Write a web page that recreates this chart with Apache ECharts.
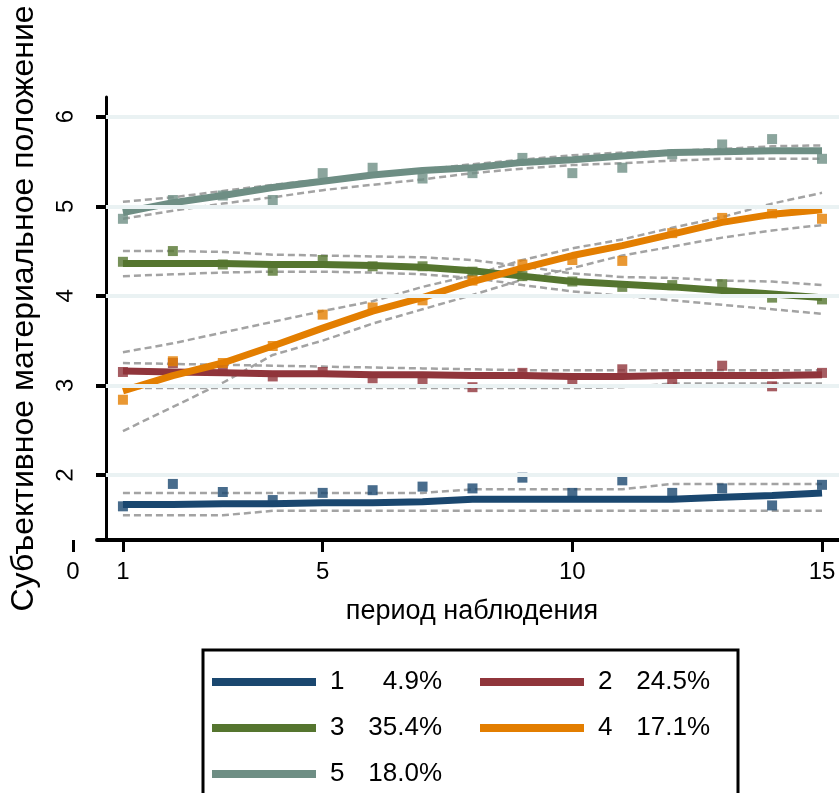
<!DOCTYPE html>
<html><head><meta charset="utf-8">
<script src="https://cdn.jsdelivr.net/npm/echarts@6/dist/echarts.min.js"></script>
<style>html,body{margin:0;padding:0;background:#fff}#c{width:839px;height:793px}</style>
</head><body><div id="c"></div>
<script>
const periods = [1,2,3,4,5,6,7,8,9,10,11,12,13,14,15];
const xTickValues = [0,1,5,10,15];
const yTickValues = [2,3,4,5,6];
const groupNames = ['1','2','3','4','5'];
const groupShares = ['4.9%','24.5%','35.4%','17.1%','18.0%'];
const groupColors = ['#1a476f','#90353b','#55752f','#e37e00','#6e8e84'];

const pred1 = [1.67,1.67,1.68,1.68,1.69,1.69,1.70,1.73,1.73,1.73,1.73,1.73,1.75,1.77,1.80];
const obs1  = [1.65,1.90,1.81,1.72,1.80,1.83,1.87,1.85,1.97,1.80,1.94,1.80,1.85,1.66,1.89];
const up1   = [1.80,1.80,1.80,1.80,1.80,1.80,1.80,1.84,1.84,1.84,1.84,1.90,1.90,1.90,1.90];
const lo1   = [1.55,1.55,1.55,1.60,1.60,1.60,1.60,1.60,1.60,1.60,1.60,1.60,1.60,1.60,1.60];

const pred2 = [3.16,3.15,3.14,3.13,3.13,3.12,3.12,3.11,3.11,3.10,3.10,3.11,3.11,3.11,3.12];
const obs2  = [3.15,3.25,3.17,3.10,3.15,3.08,3.04,2.98,3.14,3.05,3.18,3.04,3.22,2.99,3.14];
const up2   = [3.25,3.24,3.23,3.22,3.21,3.20,3.19,3.18,3.17,3.17,3.17,3.17,3.17,3.17,3.17];
const lo2   = [2.97,2.97,2.97,2.97,2.97,2.97,2.97,2.97,2.97,2.97,2.98,3.02,3.02,3.02,3.02];

const pred3 = [4.36,4.36,4.36,4.35,4.35,4.34,4.32,4.28,4.22,4.16,4.13,4.10,4.06,4.02,3.98];
const obs3  = [4.38,4.50,4.35,4.28,4.40,4.33,4.33,4.27,4.22,4.16,4.10,4.12,4.13,3.98,3.96];
const up3   = [4.50,4.50,4.49,4.46,4.45,4.44,4.43,4.40,4.33,4.25,4.21,4.20,4.17,4.16,4.12];
const lo3   = [4.22,4.24,4.26,4.27,4.27,4.26,4.24,4.20,4.12,4.05,4.00,3.95,3.90,3.85,3.80];

const pred4 = [2.94,3.11,3.25,3.44,3.64,3.83,3.98,4.16,4.31,4.45,4.56,4.69,4.82,4.91,4.96];
const obs4  = [2.84,3.27,3.25,3.44,3.79,3.87,3.95,4.17,4.35,4.40,4.39,4.70,4.87,4.92,4.86];
const up4   = [3.37,3.47,3.59,3.71,3.83,3.94,4.10,4.23,4.40,4.53,4.63,4.76,4.88,5.03,5.15];
const lo4   = [2.49,2.76,3.03,3.34,3.50,3.69,3.85,4.01,4.18,4.31,4.45,4.55,4.65,4.73,4.79];

const pred5 = [4.93,5.04,5.12,5.21,5.28,5.35,5.40,5.43,5.49,5.52,5.56,5.60,5.61,5.62,5.62];
const obs5  = [4.86,5.07,5.12,5.07,5.37,5.43,5.31,5.37,5.54,5.37,5.43,5.58,5.69,5.75,5.53];
const up5   = [5.05,5.10,5.17,5.24,5.30,5.36,5.41,5.47,5.52,5.57,5.60,5.62,5.64,5.67,5.68];
const lo5   = [4.86,4.95,5.03,5.10,5.18,5.24,5.30,5.37,5.42,5.46,5.48,5.51,5.53,5.53,5.53];

const xTitle = 'период наблюдения';
const yTitle = 'Субъективное материальное положение';

const preds = [pred1,pred2,pred3,pred4,pred5];
const obss = [obs1,obs2,obs3,obs4,obs5];
const ups = [up1,up2,up3,up4,up5];
const los = [lo1,lo2,lo3,lo4,lo5];

const FONT = '"Liberation Sans", Arial, sans-serif';
const pairs = arr => periods.map((p,i)=>[p, arr[i]]);

const series = [];
series.push({
  type:'line', data:[], z:0, silent:true,
  markLine:{silent:true, symbol:'none', label:{show:false}, animation:false,
    lineStyle:{color:'#eaf2f3', width:4, type:'solid'},
    data: yTickValues.map(v=>[{coord:[0.66,v]},{coord:[15.34,v]}])}
});
for (let g=0; g<5; g++) {
  [ups[g], los[g]].forEach(arr=>{
    series.push({type:'line', data:pairs(arr), symbol:'none', z:1, silent:true,
      lineStyle:{color:'#a3a3a3', width:2.5, type:[7,4]}});
  });
}
for (let g=0; g<5; g++) {
  series.push({name:groupNames[g], type:'line', data:pairs(preds[g]), symbol:'none', z:3,
    color:groupColors[g], lineStyle:{color:groupColors[g], width:7}});
  series.push({type:'scatter', data:pairs(obss[g]), symbol:'rect', symbolSize:10, z:4,
    itemStyle:{color:groupColors[g]}});
}

const chart = echarts.init(document.getElementById('c'), null, {renderer:'canvas'});
chart.setOption({
  animation:false,
  backgroundColor:'#fff',
  textStyle:{fontFamily:FONT},
  grid:[
    {left:62, right:0, top:97, bottom:253, containLabel:false},
    {left:97, right:0, top:97, bottom:253, containLabel:false}
  ],
  xAxis:[
    {type:'value', gridIndex:0, min:0, max:15.34,
     axisLine:{show:false},
     axisTick:{show:true, customValues:xTickValues, length:12, lineStyle:{color:'#000', width:3}},
     axisLabel:{customValues:xTickValues, fontSize:24, color:'#000', margin:20, fontFamily:FONT},
     splitLine:{show:false},
     name:xTitle, nameLocation:'middle', nameGap:58,
     nameTextStyle:{fontSize:27, color:'#000', fontFamily:FONT, padding:[0,0,0,32]}},
    {type:'value', gridIndex:1, min:0, max:1,
     axisLine:{show:true, onZero:false, lineStyle:{color:'#000', width:4}},
     axisTick:{show:false}, axisLabel:{show:false}, splitLine:{show:false}}
  ],
  yAxis:[
    {type:'value', gridIndex:0, min:1.274, max:6.22, offset:-33,
     axisLine:{show:true, lineStyle:{color:'#000', width:3}},
     axisTick:{show:true, customValues:yTickValues, length:10, lineStyle:{color:'#000', width:4}},
     axisLabel:{customValues:yTickValues, rotate:89.9, fontSize:24, color:'#000', margin:28,
       align:'center', verticalAlign:'bottom', fontFamily:FONT, hideOverlap:false},
     splitLine:{show:false},
     name:yTitle, nameLocation:'middle', nameGap:66,
     nameTextStyle:{fontSize:32, color:'#000', fontFamily:FONT, padding:[0,0,0,20]}},
    {type:'value', gridIndex:1, show:false}
  ],
  legend:{
    data:groupNames, left:203, top:650, width:540,
    orient:'horizontal', padding:[14,0,40,9], itemGap:10,
    itemWidth:104, itemHeight:8, icon:'rect', selectedMode:false,
    borderColor:'#000', borderWidth:3, backgroundColor:'#fff',
    formatter: name => `{n|${name}}{p|${groupShares[groupNames.indexOf(name)]}}`,
    textStyle:{fontSize:26, color:'#000', fontFamily:FONT, lineHeight:35,
      rich:{
        n:{width:40, padding:[5,0,5,9], fontSize:26, lineHeight:25, fontFamily:FONT, color:'#000'},
        p:{width:72, align:'right', padding:[5,28,5,0], fontSize:26, lineHeight:25, fontFamily:FONT, color:'#000'}
      }}
  },
  series
});
</script></body></html>
